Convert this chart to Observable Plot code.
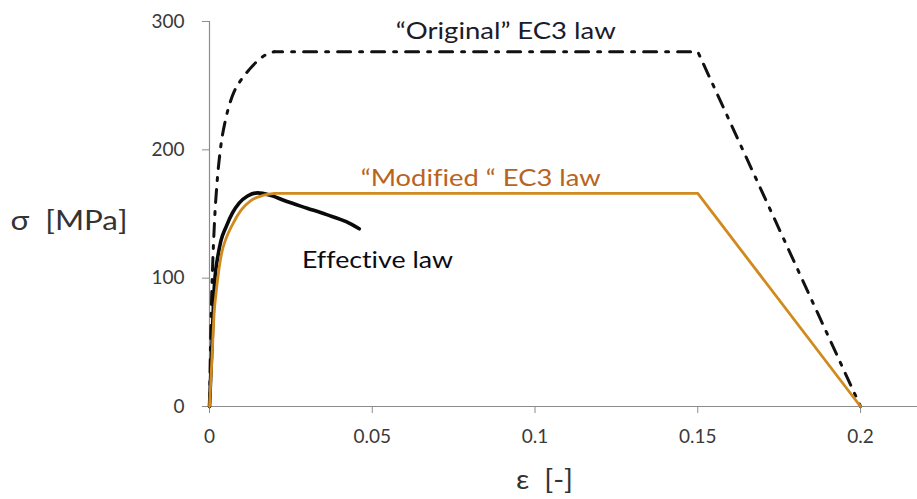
<!DOCTYPE html>
<html>
<head>
<meta charset="utf-8">
<script src="https://cdn.jsdelivr.net/npm/d3@7"></script>
<script src="https://cdn.jsdelivr.net/npm/@observablehq/plot@0.6"></script>
<style>
  html, body { margin: 0; padding: 0; background: #fff; }
  #chart svg { display: block; }
  #chart svg text { font-variant-ligatures: none; font-feature-settings: "liga" 0; }
</style>
</head>
<body>
<div id="chart"></div>
<script>
// --- Data ---
// "Original" EC3 law (dash-dot): strain, stress [MPa]
const originalStrain = [0, 0.0005, 0.0009, 0.0012, 0.0015, 0.0018, 0.0021, 0.0025, 0.0031, 0.0037, 0.0048, 0.0061, 0.0076, 0.0097, 0.0122, 0.0153, 0.0180, 0.0200, 0.15, 0.20];
const originalStress = [0, 70, 105, 125, 142, 156, 167, 180, 195, 207, 222, 235, 245.5, 254.5, 262.5, 270.5, 275, 276.5, 276.5, 0];

// "Modified" EC3 law (orange)
const modifiedStrain = [0, 0.0008, 0.0014, 0.0020, 0.0027, 0.0037, 0.0051, 0.0071, 0.0097, 0.0127, 0.0163, 0.0200, 0.15, 0.20];
const modifiedStress = [0, 40, 72, 88, 103, 119, 131, 142, 153, 160.5, 164.4, 166, 166, 0];

// Effective law (black solid)
const effectiveStrain = [0, 0.0008, 0.0013, 0.0017, 0.0025, 0.0035, 0.0051, 0.0071, 0.0091, 0.0117, 0.0148, 0.0189, 0.0240, 0.0300, 0.0360, 0.0420, 0.0460];
const effectiveStress = [0, 50, 85, 101, 116, 129, 140, 151, 158.5, 164, 166.5, 164.4, 159.5, 154.5, 149.5, 144, 138.5];

// Tick values and labels
const xTicks = [0, 0.05, 0.1, 0.15, 0.2];
const xTickLabels = ["0", "0.05", "0.1", "0.15", "0.2"];
const yTicks = [0, 100, 200, 300];
const yTickLabels = ["0", "100", "200", "300"];

// Series annotations (text, anchor strain, anchor stress)
const seriesNames = ["\u201cOriginal\u201d EC3 law", "\u201cModified \u201c EC3 law", "Effective law"];
const seriesLabelStrain = [0.0910, 0.0833, 0.0516];
const seriesLabelStress = [292, 178, 114];

const xLabel = "\u03b5  [-]";
const yLabel = "\u03c3  [MPa]";

// --- Build tables ---
const toRows = (xs, ys) => xs.map((e, i) => ({e, s: ys[i]}));
const original = toRows(originalStrain, originalStress);
const modified = toRows(modifiedStrain, modifiedStress);
const effective = toRows(effectiveStrain, effectiveStress);
// curved rising branch (up to yield strain) and straight plateau / descending branch
const yieldStrain = 0.02;
const rising = (rows) => rows.filter((d) => d.e <= yieldStrain);
const straight = (rows) => rows.filter((d) => d.e >= yieldStrain);
const labels = seriesNames.map((t, i) => ({t, e: seriesLabelStrain[i], s: seriesLabelStress[i]}));

const orange = "#D08A1E";
const labelFont = "Lato, 'Open Sans', sans-serif";
const dash = "13,9,3,9";

const chart = Plot.plot({
  width: 917,
  height: 499,
  marginLeft: 209,
  marginRight: 0,
  marginTop: 21,
  marginBottom: 93,
  style: {fontFamily: labelFont, background: "#fff", overflow: "visible"},
  x: {domain: [0, 0.2175], label: null},
  y: {domain: [0, 300], label: null},
  marks: [
    Plot.axisX({
      ticks: xTicks,
      tickFormat: (d) => xTickLabels[xTicks.indexOf(d)],
      tickSize: 7,
      tickPadding: 16,
      fontSize: 19,
      stroke: "#8c8c8c",
      color: "#3a3a3a",
      label: null
    }),
    Plot.axisY({
      ticks: yTicks,
      tickFormat: (d) => yTickLabels[yTicks.indexOf(d)],
      tickSize: 7,
      tickPadding: 18,
      fontSize: 19,
      stroke: "#8c8c8c",
      color: "#3a3a3a",
      label: null
    }),
    Plot.ruleY([0], {stroke: "#8c8c8c", strokeWidth: 1.2}),
    Plot.ruleX([0], {stroke: "#8c8c8c", strokeWidth: 1.2}),
    Plot.line(rising(original), {x: "e", y: "s", curve: "monotone-x", stroke: "#111", strokeWidth: 3, strokeDasharray: dash}),
    Plot.line(straight(original), {x: "e", y: "s", curve: "linear", stroke: "#111", strokeWidth: 3, strokeDasharray: dash, strokeDashoffset: 5}),
    Plot.line(effective, {x: "e", y: "s", curve: "monotone-x", stroke: "#0a0a0a", strokeWidth: 3.6, strokeLinecap: "round"}),
    Plot.line(rising(modified), {x: "e", y: "s", curve: "monotone-x", stroke: orange, strokeWidth: 2.8}),
    Plot.line(straight(modified), {x: "e", y: "s", curve: "linear", stroke: orange, strokeWidth: 2.8}),
    Plot.text(labels, {
      x: "e", y: "s", text: "t",
      fontSize: 24,
      fill: (d, i) => ["#1b1b2a", "#B9641C", "#0b0b14"][i],
      textAnchor: "middle"
    }),
    Plot.text([xLabel], {frameAnchor: "bottom", text: (d) => d, dy: 82, dx: -19, fontSize: 27, fill: "#333"}),
    Plot.text([yLabel], {frameAnchor: "left", text: (d) => d, dx: -199, dy: 7, fontSize: 27, fill: "#333", textAnchor: "start"})
  ]
});

// Stretch the annotation texts to the widths they have in the reference (Calibri-like)
const targetWidths = new Map([
  [seriesNames[0], 220], [seriesNames[1], 240], [seriesNames[2], 151],
  [yLabel, 117], [xLabel, 57]
]);
d3.select(chart).selectAll("text").each(function () {
  const t = this.textContent;
  if (targetWidths.has(t)) {
    this.setAttribute("textLength", targetWidths.get(t));
    this.setAttribute("lengthAdjust", "spacingAndGlyphs");
  }
});
document.getElementById("chart").appendChild(chart);
</script>
</body>
</html>
